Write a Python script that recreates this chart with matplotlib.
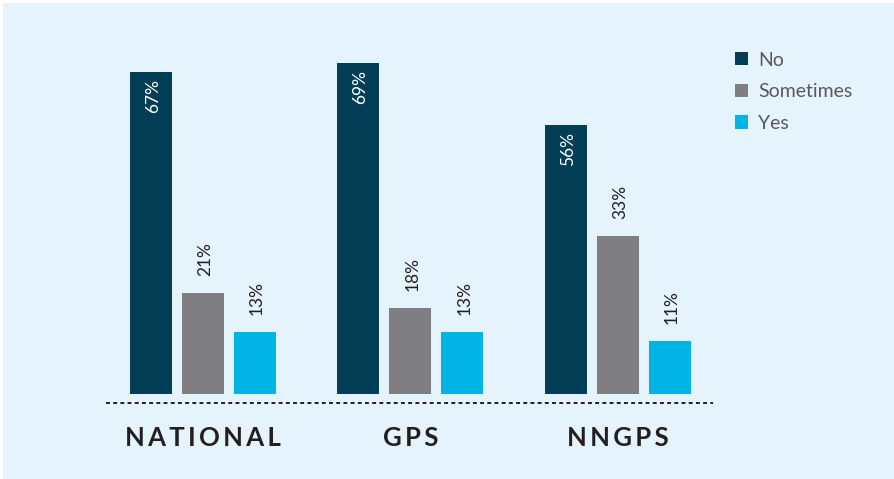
import numpy as np
import matplotlib
matplotlib.use("Agg")
import matplotlib.pyplot as plt
from matplotlib.patches import Rectangle

# ---------------------------------------------------------------------------
# Data
# ---------------------------------------------------------------------------
groups    = ["NATIONAL", "GPS", "NNGPS"]
series    = ["No", "Sometimes", "Yes"]
no_vals   = [67, 69, 56]
some_vals = [21, 18, 33]
yes_vals  = [13, 13, 11]

COLORS   = ["#023F56", "#7F7F83", "#00B4E6"]
BG       = "#E5F4FC"
DARK     = "#231F20"
LEGTXT   = "#58595B"

plt.rcParams["font.family"] = ["Lato", "DejaVu Sans"]

W, H = 894, 479
fig = plt.figure(figsize=(W / 100, H / 100), dpi=100, facecolor="white")
fig.patches.append(Rectangle((3 / W, 0), 1, 1 - 3 / H, transform=fig.transFigure,
                             facecolor=BG, edgecolor="none", zorder=-10))

# axes placed in pixel terms: x 106..713, y 403 (bottom) .. 40 (top)
px_per = 4.8
left, right, bottom, top = 106, 713, 403, 40
ax = fig.add_axes([left / W, (H - bottom) / H, (right - left) / W, (bottom - top) / H])
ax.set_facecolor("none")
for s in ax.spines.values():
    s.set_visible(False)
ax.set_xticks([])
ax.set_yticks([])

ymin = -(bottom - 394) / px_per
ax.set_ylim(ymin, ymin + (bottom - top) / px_per)
ax.set_xlim(-0.467, 2.458)

x = np.arange(len(groups))
bw, off = 0.2024, 0.2506
allvals = [no_vals, some_vals, yes_vals]
for i, (vals, name, col) in enumerate(zip(allvals, series, COLORS)):
    xs = x + (i - 1) * off
    ax.bar(xs, vals, width=bw, color=col, label=name, zorder=3)
    for xi, v in zip(xs, vals):
        if i == 0:
            ax.text(xi + 0.01, v - 1.4, f"{v}%", rotation=90, ha="center", va="top",
                    color="white", fontsize=12.5, zorder=5)
        else:
            ax.text(xi + 0.01, v + 3.5, f"{v}%", rotation=90, ha="center", va="bottom",
                    color=DARK, fontsize=12.5, zorder=5)

# dashed baseline
ax.plot([-0.467, 2.458], [ymin, ymin], color=DARK, lw=1.4, dashes=[2.0, 1.7],
        clip_on=False, zorder=4)

# category labels
for xi, g in zip(x, groups):
    ax.text(xi, ymin - 7.2, "\u2009".join(g), ha="center", va="center",
            fontsize=18.5, fontweight="bold", color=DARK)

leg = fig.legend(loc="upper left", bbox_to_anchor=(717 / W, 1 - 34 / H),
                 frameon=False, fontsize=14, handlelength=0.68, handleheight=0.68,
                 handletextpad=0.55, labelspacing=0.75, labelcolor=LEGTXT)

fig.savefig("out.png", dpi=100, facecolor="white")
